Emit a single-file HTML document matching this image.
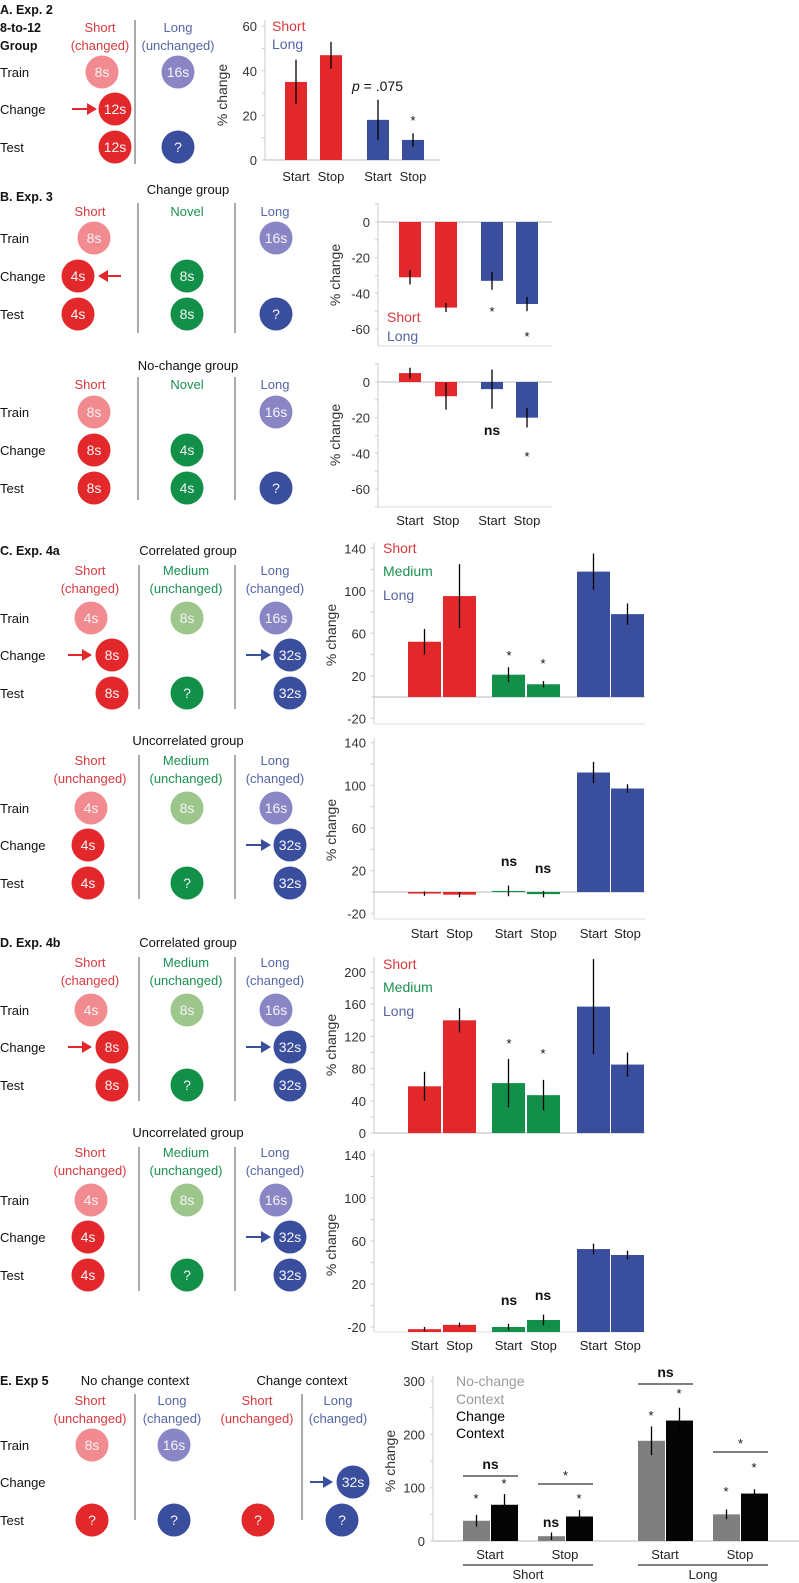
<!DOCTYPE html>
<html><head><meta charset="utf-8">
<style>
html,body{margin:0;padding:0;background:#fff;}
svg{display:block;font-family:"Liberation Sans",Arial,sans-serif;}
</style></head>
<body>
<svg id="fig" width="799" height="1583" viewBox="0 0 799 1583" xmlns="http://www.w3.org/2000/svg"></svg>
<script>
const NS="http://www.w3.org/2000/svg";
const svg=document.getElementById('fig');
const RED="#e3282c",PINK="#f18b8f",LAV="#8a86c5",BLUE="#3a4e9e",GREEN="#12904a",LGREEN="#9cc68b";
const TRED="#d9393d",TBLUE="#5565a6",TGREEN="#1a9050";

// ---------- chart data ----------
const catA=["Start","Stop","Start","Stop"];
const valA=[35,47,18,9];
const errA=[10,6,9,3];
const valB1=[-31,-48,-33,-46];
const errB1=[4,2.5,5,4];
const valB2=[5,-8,-4,-20];
const errB2=[3,7.5,11,5.5];
const catC=["Start","Stop","Start","Stop","Start","Stop"];
const valC1=[52,95,21,12,118,78];
const errC1=[12,30,7,3,17,10];
const valC2=[-1.5,-2.5,1,-2,112,97];
const errC2=[2,2.5,5,3,10,4];
const valD1=[58,140,62,47,157,85];
const errD1=[18,15,30,19,59,15];
const valD2=[-22,-18,-20,-13.5,52.5,47];
const errD2=[2,2,3,5,5,4];
const valEgrey=[38,9,188,50];
const errEgrey=[11,7,27,9];
const valEblack=[68,46,226,89];
const errEblack=[20,12,24,8];
const tickA=[0,20,40,60];
const tickB=[0,-20,-40,-60];
const tickC=[-20,20,60,100,140];
const tickD1=[0,40,80,120,160,200];
const tickD2=[-20,20,60,100,140];
const tickE=[0,100,200,300];

function el(tag,attrs,parent){const e=document.createElementNS(NS,tag);for(const k in attrs)e.setAttribute(k,attrs[k]);(parent||svg).appendChild(e);return e;}
function txt(x,y,s,o){o=o||{};const t=el('text',{x:x,y:y,'font-size':o.fs||13,fill:o.fill||'#111','text-anchor':o.anchor||'start','font-weight':o.bold?'bold':'normal'});if(o.rot)t.setAttribute('transform','rotate(-90 '+x+' '+y+')');t.textContent=s;return t;}

// ---------- diagrams ----------
function label(x,y,s,o){const t=txt(x,y,s,o);return t;}
function circ(x,y,color,s){
  const c=el('circle',{cx:x,cy:y,r:16.5,fill:color});
  
  
  const t=txt(x,y+5,s,{fs:14,fill:'#f4f4f4',anchor:'middle'});
  
  
}
function arrow(x1,x2,y,color){
  const g=el('g',{});
  
  
  const dir=x2>x1?1:-1;
  el('line',{x1:x1,y1:y,x2:x2-dir*8,y2:y,stroke:color,'stroke-width':2},g);
  el('polygon',{points:(x2)+','+y+' '+(x2-dir*10)+','+(y-6)+' '+(x2-dir*10)+','+(y+6),fill:color},g);
}
function divider(x,y1,y2){const l=el('line',{x1:x,y1:y1,x2:x,y2:y2,stroke:'#555','stroke-width':1});}
function rows(ys){label(0,ys[0]+5,'Train');label(0,ys[1]+5,'Change');label(0,ys[2]+5,'Test');}

// A
label(0,14,'A. Exp. 2',{bold:1,fs:12.5});label(0,32,'8-to-12',{bold:1,fs:12.5});label(0,50,'Group',{bold:1,fs:12.5});
label(100,32,'Short',{fill:TRED,anchor:'middle'});label(100,50,'(changed)',{fill:TRED,anchor:'middle'});
label(178,32,'Long',{fill:TBLUE,anchor:'middle'});label(178,50,'(unchanged)',{fill:TBLUE,anchor:'middle'});
divider(135,20,164);rows([72,109,147]);
circ(102,72,PINK,'8s');circ(178,72,LAV,'16s');arrow(72,97,109,RED);circ(115,109,RED,'12s');circ(115,147,RED,'12s');circ(178,147,BLUE,'?');
// B
label(0,201,'B. Exp. 3',{bold:1,fs:12.5});label(188,194,'Change group',{anchor:'middle'});
label(90,216,'Short',{fill:TRED,anchor:'middle'});label(187,216,'Novel',{fill:TGREEN,anchor:'middle'});label(275,216,'Long',{fill:TBLUE,anchor:'middle'});
divider(138,203,333);divider(235,203,333);rows([238,276,314]);
circ(94,238,PINK,'8s');circ(276,238,LAV,'16s');circ(78,276,RED,'4s');arrow(121,98,276,RED);circ(187,276,GREEN,'8s');
circ(78,314,RED,'4s');circ(187,314,GREEN,'8s');circ(276,314,BLUE,'?');
label(188,370,'No-change group',{anchor:'middle'});
label(90,389,'Short',{fill:TRED,anchor:'middle'});label(187,389,'Novel',{fill:TGREEN,anchor:'middle'});label(275,389,'Long',{fill:TBLUE,anchor:'middle'});
divider(138,377,500);divider(235,377,500);rows([412,450,488]);
circ(94,412,PINK,'8s');circ(276,412,LAV,'16s');circ(94,450,RED,'8s');circ(187,450,GREEN,'4s');
circ(94,488,RED,'8s');circ(187,488,GREEN,'4s');circ(276,488,BLUE,'?');
// C & D
function threeCol(top,title,sLab,mLab,lLab,correlated,head){
  if(head)label(0,top,head,{bold:1,fs:12.5});
  label(188,top,title,{anchor:'middle'});
  label(90,top+20,'Short',{fill:TRED,anchor:'middle'});label(90,top+38,sLab,{fill:TRED,anchor:'middle'});
  label(186,top+20,'Medium',{fill:TGREEN,anchor:'middle'});label(186,top+38,mLab,{fill:TGREEN,anchor:'middle'});
  label(275,top+20,'Long',{fill:TBLUE,anchor:'middle'});label(275,top+38,lLab,{fill:TBLUE,anchor:'middle'});
  divider(139,top+10,top+154);divider(235,top+10,top+154);
  const y0=top+63,y1=top+100,y2=top+138;rows([y0,y1,y2]);
  circ(91,y0,PINK,'4s');circ(187,y0,LGREEN,'8s');circ(276,y0,LAV,'16s');
  if(correlated){arrow(68,92,y1,RED);circ(112,y1,RED,'8s');circ(112,y2,RED,'8s');}
  else{circ(88,y1,RED,'4s');circ(88,y2,RED,'4s');}
  arrow(246,271,y1,BLUE);circ(290,y1,BLUE,'32s');circ(187,y2,GREEN,'?');circ(290,y2,BLUE,'32s');
}
threeCol(555,'Correlated group','(changed)','(unchanged)','(changed)',true,'C. Exp. 4a');
threeCol(745,'Uncorrelated group','(unchanged)','(unchanged)','(changed)',false,null);
threeCol(947,'Correlated group','(changed)','(unchanged)','(changed)',true,'D. Exp. 4b');
threeCol(1137,'Uncorrelated group','(unchanged)','(unchanged)','(changed)',false,null);
// E
label(0,1385,'E. Exp 5',{bold:1,fs:12.5});label(135,1385,'No change context',{anchor:'middle'});label(302,1385,'Change context',{anchor:'middle'});
label(90,1405,'Short',{fill:TRED,anchor:'middle'});label(90,1423,'(unchanged)',{fill:TRED,anchor:'middle'});
label(172,1405,'Long',{fill:TBLUE,anchor:'middle'});label(172,1423,'(changed)',{fill:TBLUE,anchor:'middle'});
label(257,1405,'Short',{fill:TRED,anchor:'middle'});label(257,1423,'(unchanged)',{fill:TRED,anchor:'middle'});
label(338,1405,'Long',{fill:TBLUE,anchor:'middle'});label(338,1423,'(changed)',{fill:TBLUE,anchor:'middle'});
divider(135,1394,1520);divider(302,1394,1520);rows([1445,1482,1520]);
circ(92,1445,PINK,'8s');circ(174,1445,LAV,'16s');arrow(310,333,1482,BLUE);circ(353,1482,BLUE,'32s');
circ(92,1520,RED,'?');circ(174,1520,BLUE,'?');circ(258,1520,RED,'?');circ(342,1520,BLUE,'?');

// ---------- chart helpers ----------
function makeScale(v0,y0,pxPerUnit){return v=>y0-(v-v0)*pxPerUnit;}
function axis(name,ax,yTop,yBot,xEnd,y,ticks,zeroVal,titleY,minor){
  const g=el('g',{});
  
  
  el('line',{x1:ax,y1:yTop,x2:ax,y2:yBot,stroke:'#ccc'},g);
  if(zeroVal!==null)el('line',{x1:ax,y1:y(zeroVal),x2:xEnd,y2:y(zeroVal),stroke:'#bbb'},g);
  if(yBot!==y(zeroVal))el('line',{x1:ax,y1:yBot,x2:xEnd,y2:yBot,stroke:'#ddd'},g);
  ticks.forEach(t=>{const tt=txt(ax-8,y(t)+5,String(t),{fs:13,fill:'#333',anchor:'end'});
    
    });
  if(minor){for(let v=minor[0];v<=minor[1];v+=minor[2]){const yy=y(v);if(yy>=yTop&&yy<=yBot)el('line',{x1:ax-3,y1:yy,x2:ax,y2:yy,stroke:'#ccc'},g);}}
  const t=txt(ax-38,titleY,'% change',{fs:14,fill:'#333',anchor:'middle',rot:1});
  
  
}
function bars(name,xs,w,vals,errs,colors,y,base){
  vals.forEach((v,i)=>{
    const b=base===undefined?y(0):base;
    const yv=y(v);
    const r=el('rect',{x:xs[i],y:Math.min(yv,b),width:w,height:Math.abs(b-yv),fill:colors[i]});
    
    
    const e=el('line',{x1:xs[i]+w/2,x2:xs[i]+w/2,y1:y(v-errs[i]),y2:y(v+errs[i]),stroke:'#000','stroke-width':1.3});
    
    
  });
}
function xlabels(xs,w,cats,yy){cats.forEach((c,i)=>{const t=txt(xs[i]+w/2,yy,c,{fs:13,fill:'#222',anchor:'middle'});
  
  });}
function legend(x,ys,items){items.forEach((it,i)=>{const t=txt(x,ys[i],it[0],{fs:14,fill:it[1]});
  
  });}
function ann(x,y,s,bold){const t=txt(x,y,s,{fs:bold?14:13,anchor:'middle',bold:bold,fill:'#111'});
  
  return t;}

// Chart A
const yA=makeScale(0,160,2.23);
axis('chart-a',265,20,160,440,yA,tickA,0,95,[0,60,10]);
const xA=[285,320,367,402];
bars('chart-a',xA,22,valA,errA,[RED,RED,BLUE,BLUE],yA);
xlabels(xA,22,catA,181);legend(272,[31,49],[['Short',TRED],['Long',TBLUE]]);
{const p=txt(352,91,'',{fs:14});
 const i=el('tspan',{'font-style':'italic'},p);i.textContent='p';const r=el('tspan',{},p);r.textContent=' = .075';}
ann(xA[3]+11,yA(valA[3]+errA[3])-8,'*');

// Chart B1
const xB=[399,435,481,516];
const yB1=makeScale(0,222,1.783);
axis('chart-b1',378,203,346,552,yB1,tickB,0,275,[-70,10,10]);
bars('chart-b1',xB,22,valB1,errB1,[RED,RED,BLUE,BLUE],yB1);
legend(387,[322,341],[['Short',TRED],['Long',TBLUE]]);
ann(492,316,'*');ann(527,341,'*');
// Chart B2
const yB2=makeScale(0,382,1.783);
axis('chart-b2',378,363,507,552,yB2,tickB,0,435,[-70,10,10]);
bars('chart-b2',xB,22,valB2,errB2,[RED,RED,BLUE,BLUE],yB2);
xlabels(xB,22,catA,525);ann(492,435,'ns',1);ann(527,461,'*');

// Chart C1
const xC=[408,443,492,527,577,611];
const colC=[RED,RED,GREEN,GREEN,BLUE,BLUE];
const yC1=makeScale(0,697,1.0625);
axis('chart-c1',374,543,724,645,yC1,tickC,0,635,[-20,140,20]);
bars('chart-c1',xC,33,valC1,errC1,colC,yC1);
legend(383,[553,576,600],[['Short',TRED],['Medium',TGREEN],['Long',TBLUE]]);
ann(509,660,'*');ann(543,668,'*');
// Chart C2
const yC2=makeScale(0,892,1.067);
axis('chart-c2',374,738,919,645,yC2,tickC,0,830,[-20,140,20]);
bars('chart-c2',xC,33,valC2,errC2,colC,yC2);
xlabels(xC,33,catC,938);ann(509,866,'ns',1);ann(543,873,'ns',1);

// Chart D1
const yD1=makeScale(0,1133,0.805);
axis('chart-d1',374,957,1133,645,yD1,tickD1,0,1045,[0,210,20]);
bars('chart-d1',xC,33,valD1,errD1,colC,yD1);
legend(383,[969,992,1016],[['Short',TRED],['Medium',TGREEN],['Long',TBLUE]]);
ann(509,1048,'*');ann(543,1058,'*');
// Chart D2
const yD2=makeScale(-20,1327,1.075);
axis('chart-d2',374,1150,1332,645,yD2,tickD2,null,1245,[-20,140,20]);
bars('chart-d2',xC,33,valD2,errD2,colC,yD2,1332);
xlabels(xC,33,catC,1350);ann(509,1305,'ns',1);ann(543,1300,'ns',1);

// Chart E
const yE=makeScale(0,1541,0.533);
axis('chart-e',433,1376,1541,799,yE,tickE,0,1461,[0,300,50]);
const xEg=[463,538,638,713],xEb=[491,566,666,741];
bars('chart-e-nochange',xEg,27,valEgrey,errEgrey,['#7f7f7f','#7f7f7f','#7f7f7f','#7f7f7f'],yE);
bars('chart-e-change',xEb,27,valEblack,errEblack,['#050505','#050505','#050505','#050505'],yE);
legend(456,[1386,1404,1421,1438],[['No-change','#9a9a9a'],['Context','#9a9a9a'],['Change','#000'],['Context','#000']]);
ann(476,1503,'*');ann(504,1488,'*');ann(551,1527,'ns',1);ann(579,1503,'*');
ann(651,1420,'*');ann(679,1398,'*');ann(726,1496,'*');ann(754,1472,'*');
[[463,518,1476,'ns'],[538,593,1484,'*'],[638,693,1384,'ns'],[713,768,1452,'*']].forEach(b=>{
  const l=el('line',{x1:b[0],x2:b[1],y1:b[2],y2:b[2],stroke:'#333','stroke-width':1.2});
  
  
  ann((b[0]+b[1])/2,b[2]-(b[3]==='ns'?7:4),b[3],b[3]==='ns');
});
const catE=["Start","Stop","Start","Stop"];
catE.forEach((c,i)=>{const t=txt(xEg[i]+27,1559,c,{fs:13,fill:'#222',anchor:'middle'});
  
  });
[[463,593,'Short'],[638,768,'Long']].forEach(g=>{
  const l=el('line',{x1:g[0],x2:g[1],y1:1565,y2:1565,stroke:'#333','stroke-width':1.2});
  
  
  const t=txt((g[0]+g[1])/2,1579,g[2],{fs:13,fill:'#222',anchor:'middle'});
  
  
});
</script>
</body></html>
